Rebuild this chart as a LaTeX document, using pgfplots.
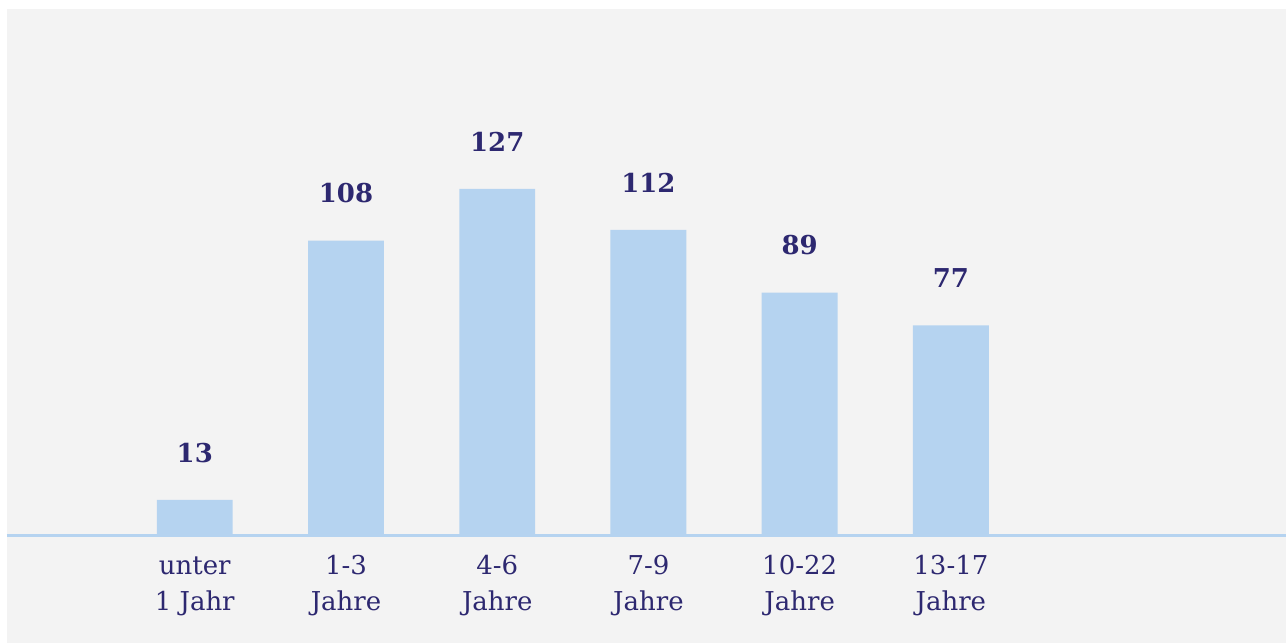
\documentclass[border=0pt]{standalone}
\usepackage{fontspec}
\setmainfont{DejaVu Serif}
\usepackage{pgfplots}
\pgfplotsset{compat=1.18}
\definecolor{bg}{RGB}{243,243,243}
\definecolor{barblue}{RGB}{181,211,240}
\definecolor{ink}{RGB}{45,40,112}

\begin{document}
\begin{tikzpicture}[font=\fontsize{13}{18}\selectfont]
% canvas: white margin at left and top, grey panel
\fill[white] (-3.5pt,-54pt) rectangle (640pt,268pt);
\fill[bg] (0pt,-54pt) rectangle (640pt,263.5pt);
\begin{axis}[
  at={(0pt,0pt)}, anchor=south west,
  scale only axis,
  width=640pt, height=263.5pt,
  xmin=-1.2417, xmax=7.2127,
  ymin=0, ymax=192.9,
  axis y line=none,
  axis x line=bottom,
  axis line style={draw=barblue, line width=1.5pt, -},
  xtick={0,1,2,3,4,5},
  xticklabels={{\strut unter\\1 Jahr},{\strut 1-3\\Jahre},{\strut 4-6\\Jahre},{\strut 7-9\\Jahre},{\strut 10-22\\Jahre},{\strut 13-17\\Jahre}},
  xticklabel style={align=center, text=ink, inner sep=0pt, yshift=-7pt},
  major tick length=0pt,
  ybar, bar width=38pt,
  /pgf/number format/assume math mode=true,
  nodes near coords,
  every node near coord/.append style={font=\fontsize{13}{18}\selectfont\bfseries, text=ink, inner sep=0pt, yshift=18.5pt},
  clip=false,
]
\addplot[fill=barblue, draw=none] coordinates {(0,13) (1,108) (2,127) (3,112) (4,89) (5,77)};
\end{axis}
\end{tikzpicture}
\end{document}
